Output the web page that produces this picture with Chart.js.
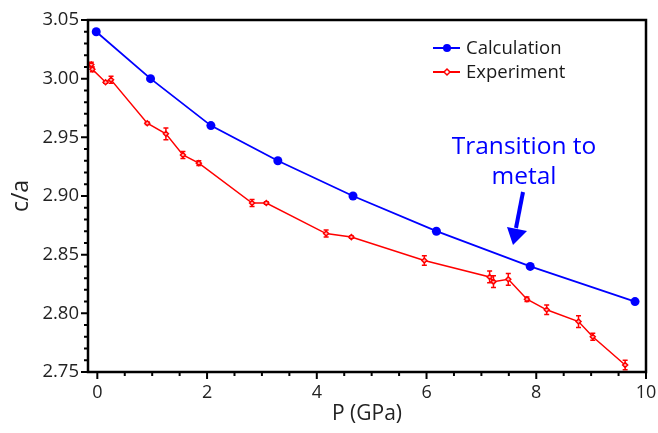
<!DOCTYPE html>
<html lang="en">
<head>
  <meta charset="UTF-8" />
  <title>c/a vs P</title>
  <style>
    html, body { margin: 0; padding: 0; background: #fff; overflow: hidden; }
    #grafico { display: block; }
  </style>
</head>
<body>
  <canvas id="grafico" width="658" height="433"></canvas>
  <script src="https://cdn.jsdelivr.net/npm/chart.js@4.4.0/dist/chart.umd.min.js"></script>
  <script>
    // calculated c/a
    const calcP = [-0.02, 0.97, 2.07, 3.29, 4.66, 6.18, 7.89, 9.80];
    const calcCA = [3.04, 3.00, 2.96, 2.93, 2.90, 2.87, 2.84, 2.81];

    // measured c/a with error bars
    const expP = [-0.11, -0.09, 0.15, 0.25, 0.91, 1.25, 1.56, 1.85, 2.82, 3.08, 4.17,
                  4.63, 5.96, 7.15, 7.22, 7.49, 7.83, 8.19, 8.77, 9.03, 9.62];
    const expCA = [3.012, 3.008, 2.997, 2.999, 2.962, 2.953, 2.935, 2.928, 2.894, 2.894, 2.868,
                   2.865, 2.845, 2.831, 2.827, 2.829, 2.812, 2.803, 2.793, 2.780, 2.756];
    const expErr = [0.002, 0.002, 0.001, 0.003, 0.001, 0.005, 0.003, 0.002, 0.003, 0.001, 0.003,
                    0.001, 0.004, 0.005, 0.005, 0.005, 0.002, 0.004, 0.005, 0.003, 0.004];

    const xTicks = [0, 2, 4, 6, 8, 10];
    const xMinor = [0.5, 1, 1.5, 2.5, 3, 3.5, 4.5, 5, 5.5, 6.5, 7, 7.5, 8.5, 9, 9.5];
    const yTicks = [2.75, 2.80, 2.85, 2.90, 2.95, 3.00, 3.05];

    const FONT = "'Open Sans', 'DejaVu Sans', sans-serif";
    const AZUL = '#0000ff';
    const VERMELHO = '#ff0000';

    // frame, tick marks, error bars, legend and the note
    const extras = {
      id: 'extras',
      beforeDatasetsDraw(chart) {
        const ctx = chart.ctx;
        const x = chart.scales.x, y = chart.scales.y;
        ctx.save();
        ctx.strokeStyle = VERMELHO;
        ctx.lineWidth = 1.5;
        for (let i = 0; i < expP.length; i++) {
          const px = x.getPixelForValue(expP[i]);
          const y1 = y.getPixelForValue(expCA[i] + expErr[i]);
          const y2 = y.getPixelForValue(expCA[i] - expErr[i]);
          ctx.beginPath();
          ctx.moveTo(px, y1); ctx.lineTo(px, y2);
          ctx.moveTo(px - 2.5, y1); ctx.lineTo(px + 2.5, y1);
          ctx.moveTo(px - 2.5, y2); ctx.lineTo(px + 2.5, y2);
          ctx.stroke();
        }
        ctx.restore();
      },
      afterDraw(chart) {
        const ctx = chart.ctx;
        const a = chart.chartArea;
        const x = chart.scales.x, y = chart.scales.y;
        ctx.save();
        ctx.strokeStyle = '#000';
        ctx.lineWidth = 2.5;
        ctx.strokeRect(a.left, a.top, a.right - a.left, a.bottom - a.top);

        ctx.lineWidth = 2;
        ctx.beginPath();
        xTicks.forEach(v => { const p = x.getPixelForValue(v); ctx.moveTo(p, a.bottom); ctx.lineTo(p, a.bottom + 7); });
        xMinor.forEach(v => { const p = x.getPixelForValue(v); ctx.moveTo(p, a.bottom); ctx.lineTo(p, a.bottom + 4); });
        for (let k = 275; k <= 305; k++) {
          const p = y.getPixelForValue(k / 100);
          const len = k % 5 === 0 ? 7 : 4;
          ctx.moveTo(a.left, p); ctx.lineTo(a.left - len, p);
        }
        ctx.stroke();

        // legend
        const series = chart.data.datasets;
        ctx.font = '18.5px ' + FONT;
        ctx.textBaseline = 'middle';
        ctx.textAlign = 'left';
        series.forEach((ds, i) => {
          const ly = 48 + i * 24;
          ctx.strokeStyle = ds.borderColor;
          ctx.lineWidth = 2;
          ctx.beginPath(); ctx.moveTo(433, ly); ctx.lineTo(460, ly); ctx.stroke();
          ctx.beginPath();
          if (i === 0) {
            ctx.fillStyle = ds.pointBackgroundColor;
            ctx.arc(447, ly, 4, 0, Math.PI * 2); ctx.fill();
          } else {
            ctx.fillStyle = '#fff';
            ctx.moveTo(447, ly - 3); ctx.lineTo(450, ly); ctx.lineTo(447, ly + 3); ctx.lineTo(444, ly); ctx.closePath();
            ctx.fill(); ctx.lineWidth = 1.5; ctx.stroke();
          }
          ctx.fillStyle = '#1a1a1a';
          ctx.fillText(ds.label, 466, ly + 1);
        });

        // transition note and arrow
        ctx.fillStyle = AZUL;
        ctx.textAlign = 'center';
        ctx.font = '24.5px ' + FONT;
        ctx.fillText('Transition to', 524, 147);
        ctx.fillText('metal', 524, 177);
        ctx.strokeStyle = AZUL;
        ctx.lineWidth = 4;
        ctx.beginPath(); ctx.moveTo(523, 192); ctx.lineTo(516, 228); ctx.stroke();
        ctx.beginPath();
        ctx.moveTo(507, 227); ctx.lineTo(527, 231); ctx.lineTo(513, 245); ctx.closePath();
        ctx.fill();
        ctx.restore();
      }
    };

    new Chart(document.getElementById('grafico'), {
      type: 'scatter',
      data: {
        datasets: [{
          label: 'Calculation',
          data: calcP.map((p, i) => ({ x: p, y: calcCA[i] })),
          showLine: true,
          borderColor: AZUL,
          backgroundColor: AZUL,
          pointBackgroundColor: AZUL,
          pointBorderWidth: 0,
          pointRadius: 4.5,
          borderWidth: 1.8
        }, {
          label: 'Experiment',
          data: expP.map((p, i) => ({ x: p, y: expCA[i] })),
          showLine: true,
          borderColor: VERMELHO,
          backgroundColor: '#ffb0b0',
          pointStyle: 'rectRot',
          pointBackgroundColor: '#ffb0b0',
          pointBorderColor: VERMELHO,
          pointBorderWidth: 1.5,
          pointRadius: 2.5,
          borderWidth: 1.5
        }]
      },
      options: {
        responsive: false,
        animation: false,
        devicePixelRatio: 1,
        layout: { padding: { top: 20, right: 12, left: 0, bottom: 0 } },
        plugins: { legend: { display: false }, tooltip: { enabled: false } },
        scales: {
          x: {
            type: 'linear',
            min: -0.17,
            max: 10,
            afterBuildTicks: s => { s.ticks = xTicks.map(v => ({ value: v })); },
            afterFit: s => { s.height = 61; s.paddingLeft = 0; s.paddingRight = 0; },
            grid: { display: false, drawTicks: false },
            border: { display: false },
            ticks: { color: '#222', font: { family: FONT, size: 18 }, padding: 10, callback: v => String(v) },
            title: { display: true, text: 'P (GPa)', color: '#222', font: { family: FONT, size: 21 }, padding: { top: 4, bottom: 6 } }
          },
          y: {
            min: 2.75,
            max: 3.05,
            afterBuildTicks: s => { s.ticks = yTicks.map(v => ({ value: v })); },
            afterFit: s => { s.width = 88; s.paddingTop = 0; s.paddingBottom = 0; },
            grid: { display: false, drawTicks: false },
            border: { display: false },
            ticks: { color: '#222', font: { family: FONT, size: 18.5 }, padding: 9, callback: v => Number(v).toFixed(2) },
            title: { display: true, text: 'c/a', color: '#222', font: { family: FONT, size: 23 }, padding: { top: 8, bottom: 4 } }
          }
        }
      },
      plugins: [extras]
    });
  </script>
</body>
</html>
